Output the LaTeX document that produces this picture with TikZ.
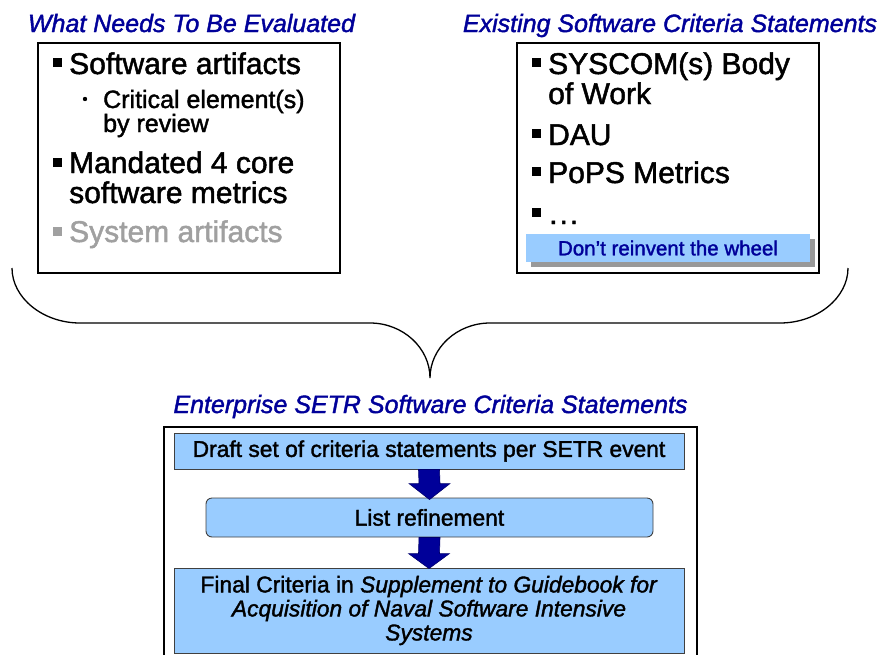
\documentclass[tikz,border=0pt]{standalone}
\usepackage{fontspec}
\setmainfont[FakeBold=1.6]{Liberation Sans}
\usetikzlibrary{calc}
\definecolor{navy}{RGB}{0,0,153}
\definecolor{lblue}{RGB}{153,204,255}
\definecolor{gtext}{RGB}{160,160,160}
\definecolor{shadowgray}{RGB}{153,153,153}
\begin{document}
\begin{tikzpicture}[x=1pt,y=-1pt,
  title/.style={font=\fontsize{25}{30}\selectfont\itshape, text=navy, inner sep=0pt, anchor=base},
  big/.style={font=\fontsize{30}{34}\selectfont, inner sep=0pt, anchor=base west},
  small/.style={font=\fontsize{25}{28}\selectfont, inner sep=0pt, anchor=base west},
  panel/.style={draw=black, line width=1.3pt, inner sep=0pt},
  stepbox/.style={draw=black!75, line width=0.9pt, fill=lblue, inner sep=0pt, font=\fontsize{22.8}{24}\selectfont},
  blockarrow/.style={fill=navy, draw=navy!70!black, line width=0.6pt},
  bsq/.style={fill=black},
  brace/.style={draw=black, line width=1.3pt}
]
\useasboundingbox (0,0) rectangle (886,654);

% titles
\node[title] (t1) at (191.5,32) {What Needs To Be Evaluated};
\node[title] (t2) at (670,32) {Existing Software Criteria Statements};
\node[title] (t3) at (430.5,413) {Enterprise SETR Software Criteria Statements};

% upper panels
\node[panel, minimum width=302pt, minimum height=230pt] (lp) at (189,158) {};
\node[panel, minimum width=302pt, minimum height=230pt] (rp) at (668,158) {};

% left panel content
\fill[bsq] (53,58) rectangle (62,67);
\node[big] (l1) at (69,74) {Software artifacts};
\fill[bsq] (85,99) circle (2.2pt);
\node[small] (l2) at (103,108) {Critical element(s)};
\node[small] (l3) at (103,132) {by review};
\fill[bsq] (53,157.5) rectangle (62,166.5);
\node[big] (l4) at (69,173) {Mandated 4 core};
\node[big] (l5) at (69,203) {software metrics};
\fill[gtext] (53,226.5) rectangle (62,235.5);
\node[big, text=gtext] (l6) at (69,242) {System artifacts};

% right panel content
\fill[bsq] (532,58) rectangle (541,67);
\node[big] (r1) at (548,74) {SYSCOM(s) Body};
\node[big] (r2) at (548,104) {of Work};
\fill[bsq] (532,128.5) rectangle (541,137.5);
\node[big] (r3) at (548,145) {DAU};
\fill[bsq] (532,166.5) rectangle (541,175.5);
\node[big] (r4) at (548,183) {PoPS Metrics};
\fill[bsq] (532,207.5) rectangle (541,216.5);
\node[big] (r5) at (549,224) {.\kern2pt.\kern2pt.};

\fill[shadowgray] (531,239) rectangle (815,267);
\node[fill=lblue, minimum width=284pt, minimum height=28pt, inner sep=0pt,
      text=navy, font=\fontsize{20.5}{24}\selectfont] (wheel) at (668,248) {Don’t reinvent the wheel};

% brace
\draw[brace] (12,268) .. controls (12,298) and (43,323) .. (80,323) -- (370,323)
  .. controls (403,323) and (430,348) .. (430,378)
  .. controls (430,348) and (457,323) .. (490,323) -- (780,323)
  .. controls (817,323) and (848,298) .. (848,268);

% bottom panel
\node[panel, minimum width=533pt, minimum height=231pt] (bp) at (430.5,542.5) {};
\node[stepbox, minimum width=510pt, minimum height=36pt] (draft) at (429,451) {Draft set of criteria statements per SETR event};
\node[stepbox, rounded corners=6pt, minimum width=447pt, minimum height=39pt] (list) at (429.5,517.5) {List refinement};
\node[stepbox, minimum width=510pt, minimum height=85pt, align=center] (final) at (429,610.5)
  {Final Criteria in \textit{Supplement to Guidebook for}\\\textit{Acquisition of Naval Software Intensive}\\\textit{Systems}};

% block arrows
\filldraw[blockarrow] ($(draft.south)+(-10.5,0)$) -- ($(list.north)+(-10.5,-14)$) -- ($(list.north)+(-20.5,-14)$)
  -- ($(list.north)+(0,2)$) -- ($(list.north)+(20.5,-14)$) -- ($(list.north)+(10.5,-14)$)
  -- ($(draft.south)+(10.5,0)$) -- cycle;
\filldraw[blockarrow] ($(list.south)+(-10.5,0)$) -- ($(final.north)+(-10.5,-14)$) -- ($(final.north)+(-20.5,-14)$)
  -- ($(final.north)+(0,1)$) -- ($(final.north)+(20.5,-14)$) -- ($(final.north)+(10.5,-14)$)
  -- ($(list.south)+(10.5,0)$) -- cycle;
\end{tikzpicture}
\end{document}
